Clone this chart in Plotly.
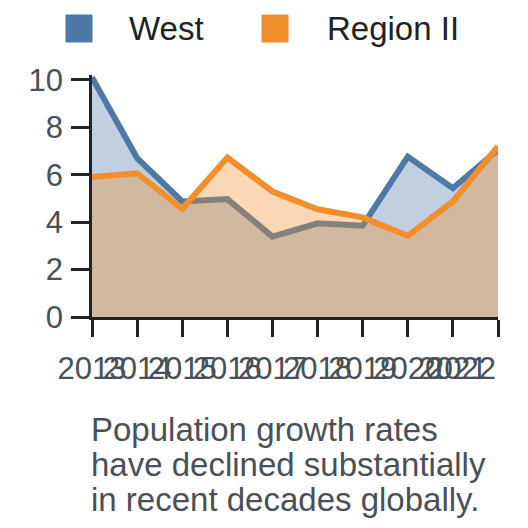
import plotly.graph_objects as go

years = [2013, 2014, 2015, 2016, 2017, 2018, 2019, 2020, 2021, 2022]
west = [10.1, 6.7, 4.87, 4.97, 3.39, 3.95, 3.85, 6.76, 5.43, 7.05]
region2 = [5.9, 6.06, 4.56, 6.72, 5.29, 4.54, 4.2, 3.42, 4.87, 7.19]
series_names = ["West", "Region II"]
y_ticks = [0, 2, 4, 6, 8, 10]
caption_lines = ["Population growth rates", "have declined substantially", "in recent decades globally."]

blue = "#4e79a7"
orange = "#f28e2b"
fills = ["rgba(78,121,167,0.35)", "rgba(242,142,43,0.35)"]
FONT = "Liberation Sans, Arial, sans-serif"

fig = go.Figure()
for name, vals, col, fc in [(series_names[0], west, blue, fills[0]),
                            (series_names[1], region2, orange, fills[1])]:
    fig.add_trace(go.Scatter(x=years, y=vals, name=name, mode="lines",
                             line=dict(color=col, width=6),
                             fill="tozeroy", fillcolor=fc, showlegend=False))

tick_font = dict(family=FONT, size=31, color="#4a5058")
# last label is drawn flush right against its tick
x_text = [str(y) for y in years[:-1]] + [""]
fig.update_layout(
    width=520, height=520,
    margin=dict(l=84, r=30, t=67, b=211),
    plot_bgcolor="white", paper_bgcolor="white",
    xaxis=dict(range=[years[0], years[-1]], tickmode="array", tickvals=years,
               ticktext=x_text, tickangle=0, ticklabeloverflow="allow",
               showgrid=False, zeroline=False, showline=True, linecolor="#222",
               linewidth=2.5, ticks="outside", ticklen=17, tickwidth=2.5,
               tickcolor="#222", tickfont=tick_font, automargin=False,
               ticklabelstandoff=5),
    yaxis=dict(range=[0, 10.2], tickmode="array", tickvals=y_ticks,
               showgrid=False, zeroline=False, showline=True, linecolor="#222",
               linewidth=2.5, ticks="outside", ticklen=18, tickwidth=2.5,
               tickcolor="#222", tickfont=tick_font, automargin=False,
               ticklabelstandoff=2),
)

fig.add_annotation(text=str(years[-1]), xref="x", yref="paper", x=years[-1],
                   y=(317 - 368.5) / 242, xanchor="right", yanchor="middle",
                   showarrow=False, font=tick_font)

# legend drawn manually
legend_items = [(series_names[0], blue, 66, 127), (series_names[1], orange, 262, 325)]
for name, col, sx, tx in legend_items:
    fig.add_shape(type="rect", xref="paper", yref="paper",
                  x0=(sx - 92) / 406, x1=(sx + 26 - 92) / 406,
                  y0=(317 - 42) / 242, y1=(317 - 15) / 242,
                  fillcolor=col, line=dict(color=col, width=1), layer="above")
    fig.add_annotation(text=name, xref="paper", yref="paper",
                       x=(tx - 92) / 406, y=(317 - 28) / 242,
                       xanchor="left", yanchor="middle", showarrow=False,
                       font=dict(family=FONT, size=33, color="#222"))

for i, line in enumerate(caption_lines):
    fig.add_annotation(text=line, xref="paper", yref="paper",
                       x=0, y=(317 - (429.5 + 35 * i)) / 242,
                       xanchor="left", yanchor="middle", xshift=-3, showarrow=False,
                       font=dict(family=FONT, size=33, color="#4a5058"))

fig.write_html("out.html")
